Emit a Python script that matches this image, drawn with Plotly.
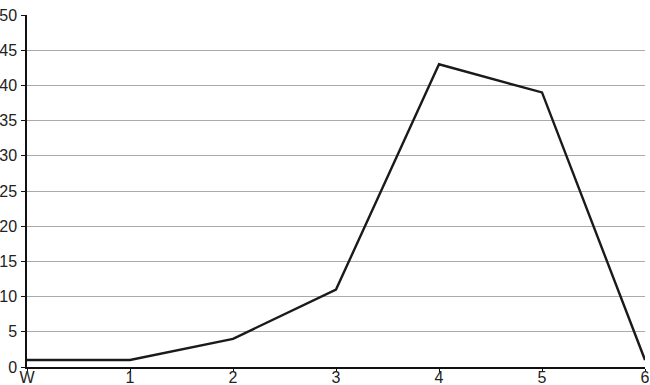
import plotly.graph_objects as go

categories = ["W", "1", "2", "3", "4", "5", "6"]
values = [1, 1, 4, 11, 43, 39, 1]
y_ticks = [0, 5, 10, 15, 20, 25, 30, 35, 40, 45, 50]

fig = go.Figure()
fig.add_trace(go.Scatter(
    x=categories, y=values, mode="lines",
    line=dict(color="#1a1a1a", width=2.4),
    hoverinfo="skip",
))

font = dict(family="Liberation Sans, Arial, sans-serif", size=16, color="#222222")

fig.update_layout(
    width=650, height=385,
    margin=dict(l=27, r=5, t=15, b=18),
    paper_bgcolor="white", plot_bgcolor="white",
    showlegend=False,
    font=font,
    xaxis=dict(
        type="category", range=[0, 6], automargin=False,
        showgrid=False, zeroline=False,
        showline=True, linecolor="#111111", linewidth=1.5,
        ticks="outside", ticklen=3, tickcolor="#111111", tickwidth=1,
        tickfont=font, ticklabelstandoff=-8,
    ),
    yaxis=dict(
        range=[0, 50], tickvals=y_ticks, automargin=False,
        showgrid=True, gridcolor="#aaaaaa", gridwidth=1,
        zeroline=False,
        showline=True, linecolor="#111111", linewidth=1.5,
        ticks="outside", ticklen=4, tickcolor="#111111", tickwidth=1,
        tickfont=font, ticklabelstandoff=1,
    ),
)

fig.write_html("out.html")
